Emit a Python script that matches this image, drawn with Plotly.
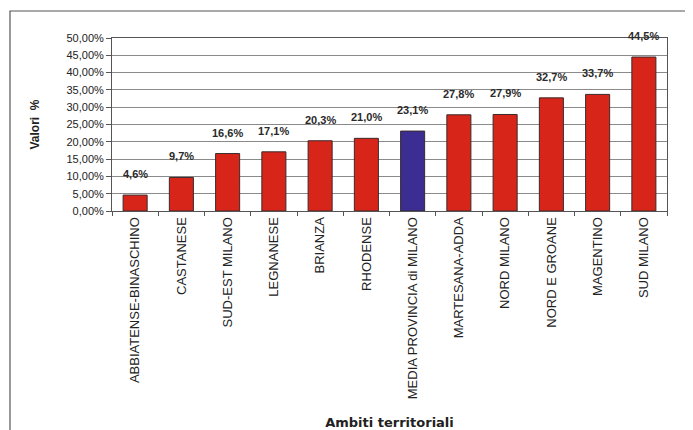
import plotly.graph_objects as go

categories = ["ABBIATENSE-BINASCHINO", "CASTANESE", "SUD-EST MILANO", "LEGNANESE",
              "BRIANZA", "RHODENSE", "MEDIA PROVINCIA di MILANO", "MARTESANA-ADDA",
              "NORD MILANO", "NORD E GROANE", "MAGENTINO", "SUD MILANO"]
values = [4.6, 9.7, 16.6, 17.1, 20.3, 21.0, 23.1, 27.8, 27.9, 32.7, 33.7, 44.5]
value_labels = ["4,6%", "9,7%", "16,6%", "17,1%", "20,3%", "21,0%", "23,1%",
                "27,8%", "27,9%", "32,7%", "33,7%", "44,5%"]
ytick_vals = [0, 5, 10, 15, 20, 25, 30, 35, 40, 45, 50]
ytick_text = ["0,00%", "5,00%", "10,00%", "15,00%", "20,00%", "25,00%", "30,00%",
              "35,00%", "40,00%", "45,00%", "50,00%"]

RED = "#d8251a"
BLUE = "#3b2d92"
colors = [BLUE if c.startswith("MEDIA") else RED for c in categories]

fig = go.Figure()
fig.add_trace(go.Bar(
    x=categories, y=values,
    marker=dict(color=colors, line=dict(color="#3a2a2a", width=1)),
    hoverinfo="skip",
))

for c, v, t in zip(categories, values, value_labels):
    fig.add_annotation(x=c, y=v, text="<b>" + t + "</b>", showarrow=False,
                       yanchor="middle", yshift=21,
                       font=dict(family="Liberation Sans", size=11, color="#2a2a2a"))

OFF = 8  # page body margin
W, H = 685, 422
L, R, T, B = 104, 26, 30, 219
pw, ph = W - L - R, H - T - B
# outer frame (page pixel coords converted to paper)
def px(x):
    return (x - OFF - L) / pw
def py(y):
    return (T + ph - (y - OFF)) / ph
fig.add_shape(type="rect", xref="paper", yref="paper",
              x0=px(10), x1=px(720), y0=py(460), y1=py(11),
              line=dict(color="#555", width=1.2), fillcolor="rgba(0,0,0,0)", layer="below")

fig.update_layout(
    width=W, height=H,
    margin=dict(l=L, r=R, t=T, b=B, autoexpand=False),
    paper_bgcolor="white", plot_bgcolor="white",
    bargap=0.48,
    showlegend=False,
    font=dict(family="Liberation Sans", size=11, color="#222"),
    xaxis=dict(
        tickangle=-90, ticks="outside", tickson="boundaries", ticklen=4,
        tickcolor="#555", showline=True, linecolor="#555", mirror=True,
        showgrid=False, tickfont=dict(size=13, color="#222"), automargin=False,
        title=dict(text="<b>Ambiti territoriali</b>", standoff=19,
                   font=dict(family="DejaVu Sans", size=13, color="#222")),
    ),
    yaxis=dict(
        range=[0, 50], tickvals=ytick_vals, ticktext=ytick_text,
        ticks="outside", ticklen=5, tickcolor="#555",
        showline=True, linecolor="#555", mirror=True,
        showgrid=True, gridcolor="#8a8a8a", gridwidth=1,
        tickfont=dict(size=11, color="#222"), automargin=False,
        title=dict(text="<b>Valori  %</b>", standoff=24,
                   font=dict(size=12, color="#222")),
        zeroline=False,
    ),
)

fig.write_html("out.html")
